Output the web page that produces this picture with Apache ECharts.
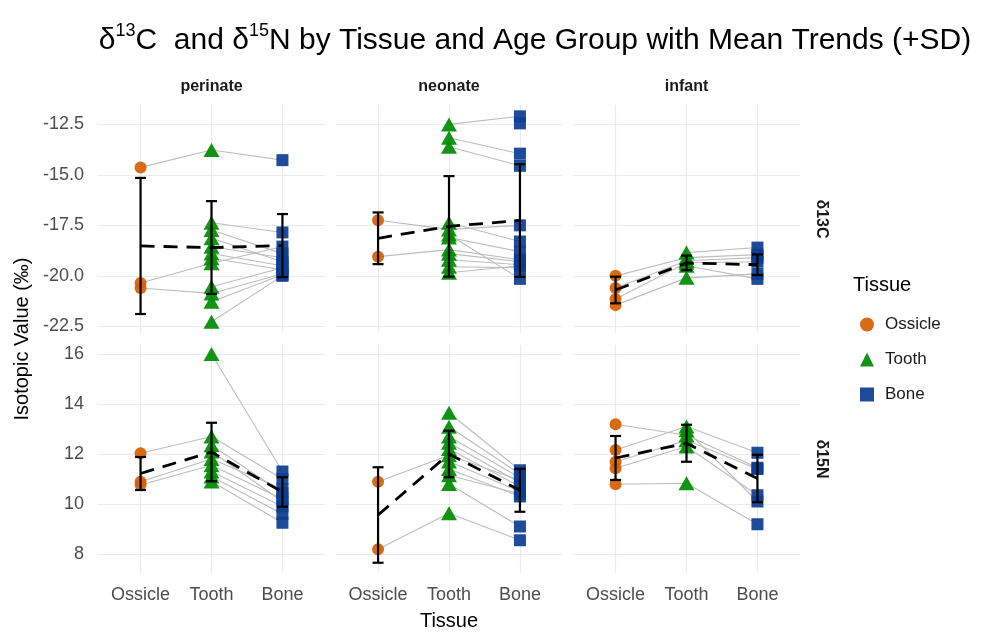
<!DOCTYPE html>
<html><head><meta charset="utf-8">
<script src="https://cdn.jsdelivr.net/npm/echarts@6/dist/echarts.min.js"></script>
<style>html,body{margin:0;padding:0;background:#fff}#c{width:992px;height:634px}</style>
</head><body><div id="c"></div>
<script>
// ---- data ----
const tissues = ['Ossicle', 'Tooth', 'Bone'];
const ages = ['perinate', 'neonate', 'infant'];
const isotopes = ['δ13C', 'δ15N'];
const yTicksC = [-22.5, -20, -17.5, -15, -12.5];
const yTicksN = [8, 10, 12, 14, 16];

// individuals: [Ossicle, Tooth, Bone]
const perinateC = [
  [-14.63, -13.77, -14.27], [-20.35, -19.38, -18.55], [-20.6, -20.87, -19.9],
  [null, -17.37, -17.85], [null, -17.73, -18.9], [null, -18.14, -19.3],
  [null, -18.56, -19.1], [null, -18.89, -19.5], [null, -19.13, -19.7],
  [null, -20.54, -19.6], [null, -21.28, -19.95], [null, -22.27, -20.0]
];
const neonateC = [
  [null, -12.5, -12.1], [null, -13.16, -13.95], [null, -13.61, -14.55],
  [-17.25, -17.7, -17.5], [-19.05, -18.7, -19.2], [null, -17.37, -18.3],
  [null, -18.1, -18.8], [null, -18.9, -19.3], [null, -19.2, -19.45],
  [null, -19.55, -19.6], [null, -19.85, -19.5], [null, -17.95, -20.15],
  [null, null, -12.45]
];
const infantC = [
  [-20.0, -19.1, -18.95], [-20.6, -19.25, -19.1], [-21.15, -19.35, -19.3],
  [-21.45, -20.1, -19.9], [null, -18.85, -18.6], [null, -19.5, -20.15]
];
const perinateN = [
  [12.03, 12.7, 11.0], [10.89, 11.8, 10.6], [10.76, 11.55, 10.2],
  [null, 16.0, 11.3], [null, 12.35, 10.45], [null, 12.1, 10.1],
  [null, 11.3, 9.9], [null, 11.1, 9.6], [null, 10.9, 9.25]
];
const neonateN = [
  [10.89, 11.95, 10.95], [8.19, 9.63, 8.55], [null, 10.8, 9.1],
  [null, 13.65, 11.35], [null, 13.09, 11.2], [null, 12.7, 11.05],
  [null, 12.45, 10.85], [null, 12.2, 10.7], [null, 11.7, 10.5],
  [null, 11.4, 10.3], [null, 11.15, 10.4]
];
const infantN = [
  [13.19, 12.75, 11.45], [12.16, 13.1, 12.05], [11.69, 12.55, 11.4],
  [11.43, 12.3, 10.35], [10.79, 10.83, 9.19], [null, 12.95, 10.1]
];
// group means and SD (per age: Ossicle, Tooth, Bone)
const meansC = [[-18.52, -18.6, -18.5], [-18.14, -17.55, -17.26], [-20.7, -19.36, -19.45]];
const sdsC   = [[3.37, 2.3, 1.56], [1.28, 2.49, 2.79], [0.66, 0.36, 0.51]];
const meansN = [[11.22, 12.08, 10.48], [9.56, 12.0, 10.55], [11.84, 12.43, 11.02]];
const sdsN   = [[0.66, 1.17, 0.59], [1.91, 0.93, 0.86], [0.88, 0.74, 0.95]];

// ---- layout / style ----
const FONT = '"Liberation Sans", Arial, sans-serif';
const colX = [98, 335.5, 573];
const panelW = 227;
const rowY = [105, 345];
const panelH = 228;
const yLim = [[-22.83, -11.54], [7.24, 16.36]];
const colors = ['#D55E00', '#008B00', '#0B3D91'];
const symbols = ['circle', 'triangle', 'rect'];
const sizes = [12, [16, 14], 12];

const dataRows = [[perinateC, neonateC, infantC], [perinateN, neonateN, infantN]];
const meanRows = [meansC, meansN];
const sdRows = [sdsC, sdsN];
const tickRows = [yTicksC, yTicksN];

const grids = [], xAxes = [], yAxes = [], series = [];
for (let r = 0; r < 2; r++) {
  for (let c = 0; c < 3; c++) {
    const idx = r * 3 + c;
    grids.push({ left: colX[c], top: rowY[r], width: panelW, height: panelH });
    xAxes.push({
      type: 'value', gridIndex: idx, min: 0.4, max: 3.6,
      axisLine: { show: false },
      axisTick: { show: false, customValues: [1, 2, 3] },
      axisLabel: { show: r === 1, customValues: [1, 2, 3], formatter: v => tissues[Math.round(v) - 1],
        color: '#4d4d4d', fontSize: 18, fontFamily: FONT, margin: 13 },
      splitLine: { show: true, lineStyle: { color: '#ebebeb', width: 1.2 } }
    });
    yAxes.push({
      type: 'value', gridIndex: idx, min: yLim[r][0], max: yLim[r][1],
      axisLine: { show: false },
      axisTick: { show: false, customValues: tickRows[r] },
      axisLabel: { show: c === 0, customValues: tickRows[r],
        formatter: v => r === 0 ? v.toFixed(1) : String(v),
        color: '#4d4d4d', fontSize: 18, fontFamily: FONT, margin: 14 },
      splitLine: { show: true, lineStyle: { color: '#ebebeb', width: 1.2 } }
    });
    const inds = dataRows[r][c];
    inds.forEach(ind => {
      const pts = [];
      ind.forEach((v, k) => { if (v !== null) pts.push([k + 1, v]); });
      if (pts.length > 1) {
        series.push({ type: 'line', xAxisIndex: idx, yAxisIndex: idx, data: pts, symbol: 'none',
          lineStyle: { color: '#bdbdbd', width: 1.1 }, silent: true, z: 1, animation: false });
      }
    });
    tissues.forEach((t, k) => {
      series.push({
        type: 'scatter', name: t, xAxisIndex: idx, yAxisIndex: idx,
        data: inds.map(ind => ind[k]).filter(v => v !== null).map(v => [k + 1, v]),
        symbol: symbols[k], symbolSize: sizes[k],
        itemStyle: { color: colors[k], opacity: 0.92 }, z: 2, animation: false
      });
    });
    const m = meanRows[r][c], s = sdRows[r][c];
    series.push({ type: 'line', xAxisIndex: idx, yAxisIndex: idx, data: m.map((v, k) => [k + 1, v]),
      symbol: 'none', lineStyle: { color: '#000', width: 2.8, type: [14, 9] }, z: 3, silent: true, animation: false });
    series.push({
      type: 'custom', xAxisIndex: idx, yAxisIndex: idx, z: 4, silent: true, animation: false,
      data: m.map((v, k) => [k + 1, v - s[k], v + s[k]]),
      renderItem: (params, api) => {
        const lo = api.coord([api.value(0), api.value(1)]);
        const hi = api.coord([api.value(0), api.value(2)]);
        const w = 5.5;
        const st = { stroke: '#000', lineWidth: 2.2 };
        return { type: 'group', children: [
          { type: 'line', shape: { x1: lo[0], y1: lo[1], x2: hi[0], y2: hi[1] }, style: st },
          { type: 'line', shape: { x1: lo[0] - w, y1: lo[1], x2: lo[0] + w, y2: lo[1] }, style: st },
          { type: 'line', shape: { x1: hi[0] - w, y1: hi[1], x2: hi[0] + w, y2: hi[1] }, style: st }
        ] };
      }
    });
  }
}

const graphics = [
  { type: 'text', x: 535, y: 41, style: {
      text: '{a|δ}{s|13}{a|C  and δ}{s|15}{a|N by Tissue and Age Group with Mean Trends (+SD)}',
      align: 'center', verticalAlign: 'middle',
      rich: { a: { fontSize: 30, fontFamily: FONT, fill: '#000', lineHeight: 38 },
              s: { fontSize: 18, fontFamily: FONT, fill: '#000', lineHeight: 20, verticalAlign: 'top' } } } },
  { type: 'text', x: 449, y: 621, style: { text: 'Tissue', fontSize: 20, fontFamily: FONT, fill: '#000', align: 'center', verticalAlign: 'middle' } },
  { type: 'text', x: 22, y: 339, rotation: Math.PI / 2, style: { text: 'Isotopic Value (‰)', fontSize: 20, fontFamily: FONT, fill: '#000', align: 'center', verticalAlign: 'middle' } },
  { type: 'text', x: 853, y: 285, style: { text: 'Tissue', fontSize: 20, fontFamily: FONT, fill: '#000', align: 'left', verticalAlign: 'middle' } }
];
ages.forEach((a, c) => graphics.push({ type: 'text', x: colX[c] + panelW / 2, y: 87,
  style: { text: a, fontSize: 16, fontWeight: 'bold', fontFamily: FONT, fill: '#1a1a1a', align: 'center', verticalAlign: 'middle' } }));
isotopes.forEach((iso, r) => graphics.push({ type: 'text', x: 821, y: rowY[r] + panelH / 2, rotation: -Math.PI / 2,
  style: { text: iso, fontSize: 16, fontWeight: 'bold', fontFamily: FONT, fill: '#1a1a1a', align: 'center', verticalAlign: 'middle' } }));

const chart = echarts.init(document.getElementById('c'), null, { renderer: 'canvas' });
chart.setOption({
  backgroundColor: '#fff',
  animation: false,
  grid: grids, xAxis: xAxes, yAxis: yAxes, series: series,
  legend: {
    orient: 'vertical', left: 855, top: 311, itemWidth: 14, itemHeight: 14, itemGap: 18,
    data: tissues.map((t, k) => ({ name: t, icon: symbols[k] })),
    textStyle: { fontSize: 17, fontFamily: FONT, color: '#1a1a1a', padding: [0, 0, 0, 6] },
    selectedMode: false
  },
  graphic: graphics
});
</script></body></html>
